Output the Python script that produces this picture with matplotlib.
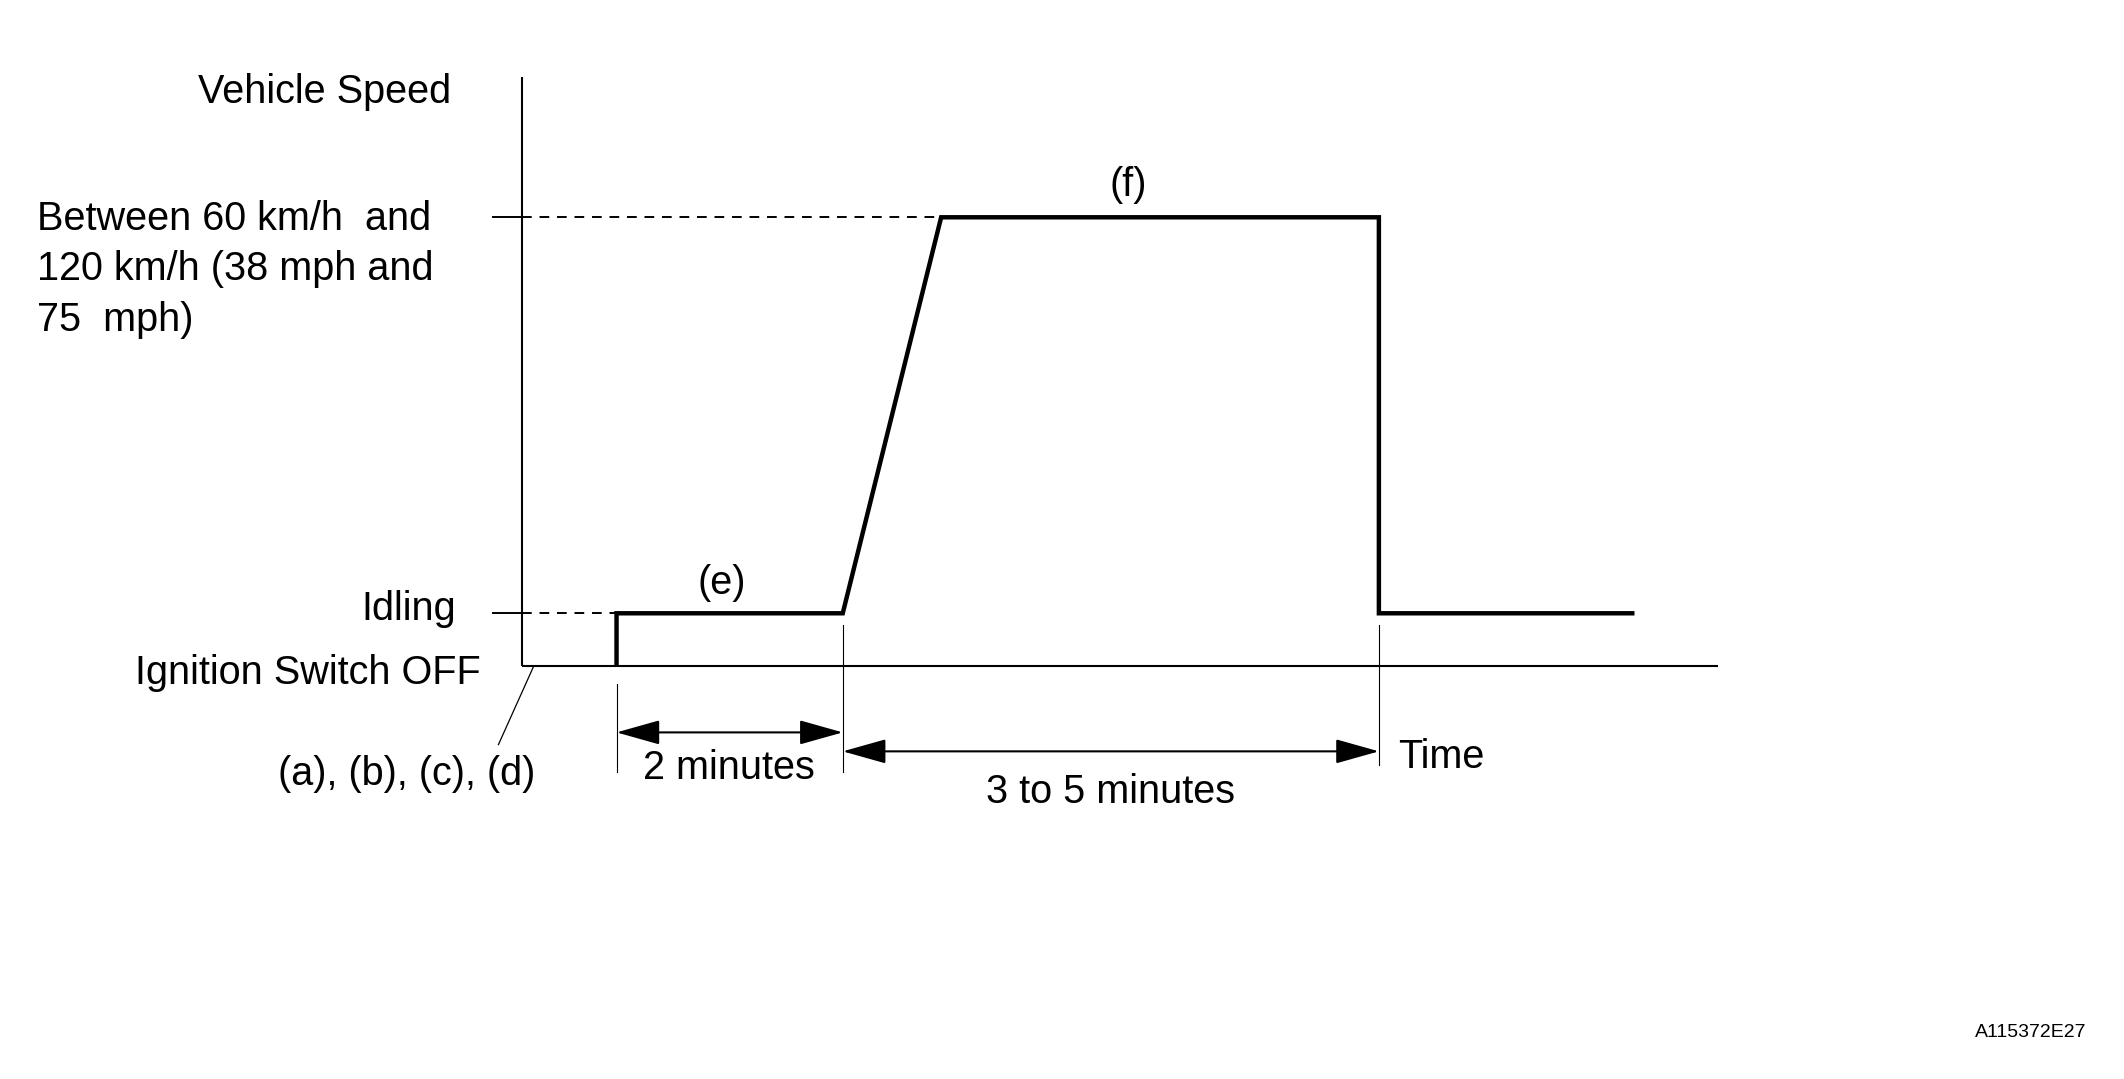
import matplotlib
matplotlib.use("Agg")
import matplotlib.pyplot as plt
from matplotlib.patches import FancyArrowPatch

plt.rcParams['font.family'] = ['Liberation Sans', 'DejaVu Sans']

# ---- data (time in minutes-like units, speed level in relative units) ----
profile_time = [0.84, 0.84, 2.84, 3.71, 7.58, 7.58, 9.84]
profile_level = [0.0, 1.0, 1.0, 8.5, 8.5, 1.0, 1.0]
level_idle = 1.0
level_target = 8.5
idle_start, idle_end, accel_end, cruise_end = 0.84, 2.84, 3.71, 7.58
y_labels = ["Vehicle Speed", "Between 60 km/h  and", "120 km/h (38 mph and", "75  mph)",
            "Idling", "Ignition Switch OFF"]
span_labels = ["2 minutes", "3 to 5 minutes"]
phase_labels = ["(e)", "(f)"]
step_label = "(a), (b), (c), (d)"
x_label = "Time"
code_label = "A115372E27"

W, H = 1568.0, 797.0
fig = plt.figure(figsize=(21.24, 10.79), dpi=100)
ax = fig.add_axes([0, 0, 1, 1])
# origin of the chart axes at pixel (385, 492) of the 1568x797 layout
ppx, ppy = 83.5, 39.0
ax.set_xlim(-385 / ppx, (W - 385) / ppx)
ax.set_ylim(-(H - 492) / ppy, 492 / ppy)
ax.axis('off')

def fx(px):
    return px / W

def fy(py):
    return 1 - py / H

x_end = 883 / ppx
y_top = 435 / ppy

# axes
ax.plot([0, 0], [0, y_top], color='black', lw=1.5, solid_capstyle='butt')
ax.plot([0, x_end], [0, 0], color='black', lw=1.5, solid_capstyle='butt')

# level ticks and dashed guides
for lvl, xend in [(level_target, accel_end), (level_idle, idle_start)]:
    ax.plot([-0.25, 0], [lvl, lvl], color='black', lw=1.4)
    ax.plot([0, xend], [lvl, lvl], color='black', lw=1.4, ls=(0, (5, 4)))

# profile
ax.plot(profile_time, profile_level, color='black', lw=3.2,
        solid_joinstyle='miter', solid_capstyle='butt')

# vertical guide lines
ax.plot([idle_start, idle_start], [-0.33, -2.0], color='black', lw=0.8)
ax.plot([idle_end, idle_end], [0.77, -2.0], color='black', lw=0.8)
ax.plot([cruise_end, cruise_end], [0.77, -1.87], color='black', lw=0.8)

# dimension arrows
for x0, x1, yy in [(idle_start, idle_end, -1.256), (idle_end, cruise_end, -1.615)]:
    arr = FancyArrowPatch((x0, yy), (x1, yy),
                          arrowstyle='<|-|>,head_length=1.6,head_width=0.45',
                          mutation_scale=17, color='black', lw=1.5,
                          shrinkA=0, shrinkB=0)
    ax.add_patch(arr)

# leader line
ax.plot([0.108, -0.204], [0, -1.487], color='black', lw=0.9)

fs = 28.5
fig.text(fx(333), fy(68), y_labels[0], ha='right', va='center', fontsize=fs)
fig.text(fx(27), fy(162), y_labels[1], ha='left', va='center', fontsize=fs)
fig.text(fx(27), fy(199), y_labels[2], ha='left', va='center', fontsize=fs)
fig.text(fx(27), fy(236), y_labels[3], ha='left', va='center', fontsize=fs)
fig.text(fx(337), fy(450), y_labels[4], ha='right', va='center', fontsize=fs)
fig.text(fx(355), fy(497), y_labels[5], ha='right', va='center', fontsize=fs)
fig.text(fx(395), fy(572), step_label, ha='right', va='center', fontsize=fs)
fig.text(fx(538), fy(567), span_labels[0], ha='center', va='center', fontsize=fs)
fig.text(fx(820), fy(585), span_labels[1], ha='center', va='center', fontsize=fs)
fig.text(fx(1032), fy(559), x_label, ha='left', va='center', fontsize=fs)
fig.text(fx(533), fy(431), phase_labels[0], ha='center', va='center', fontsize=fs)
fig.text(fx(833), fy(137), phase_labels[1], ha='center', va='center', fontsize=fs)
fig.text(fx(1540), fy(763), code_label, ha='right', va='center', fontsize=14)

fig.savefig('out.png', dpi=100, facecolor='white')
